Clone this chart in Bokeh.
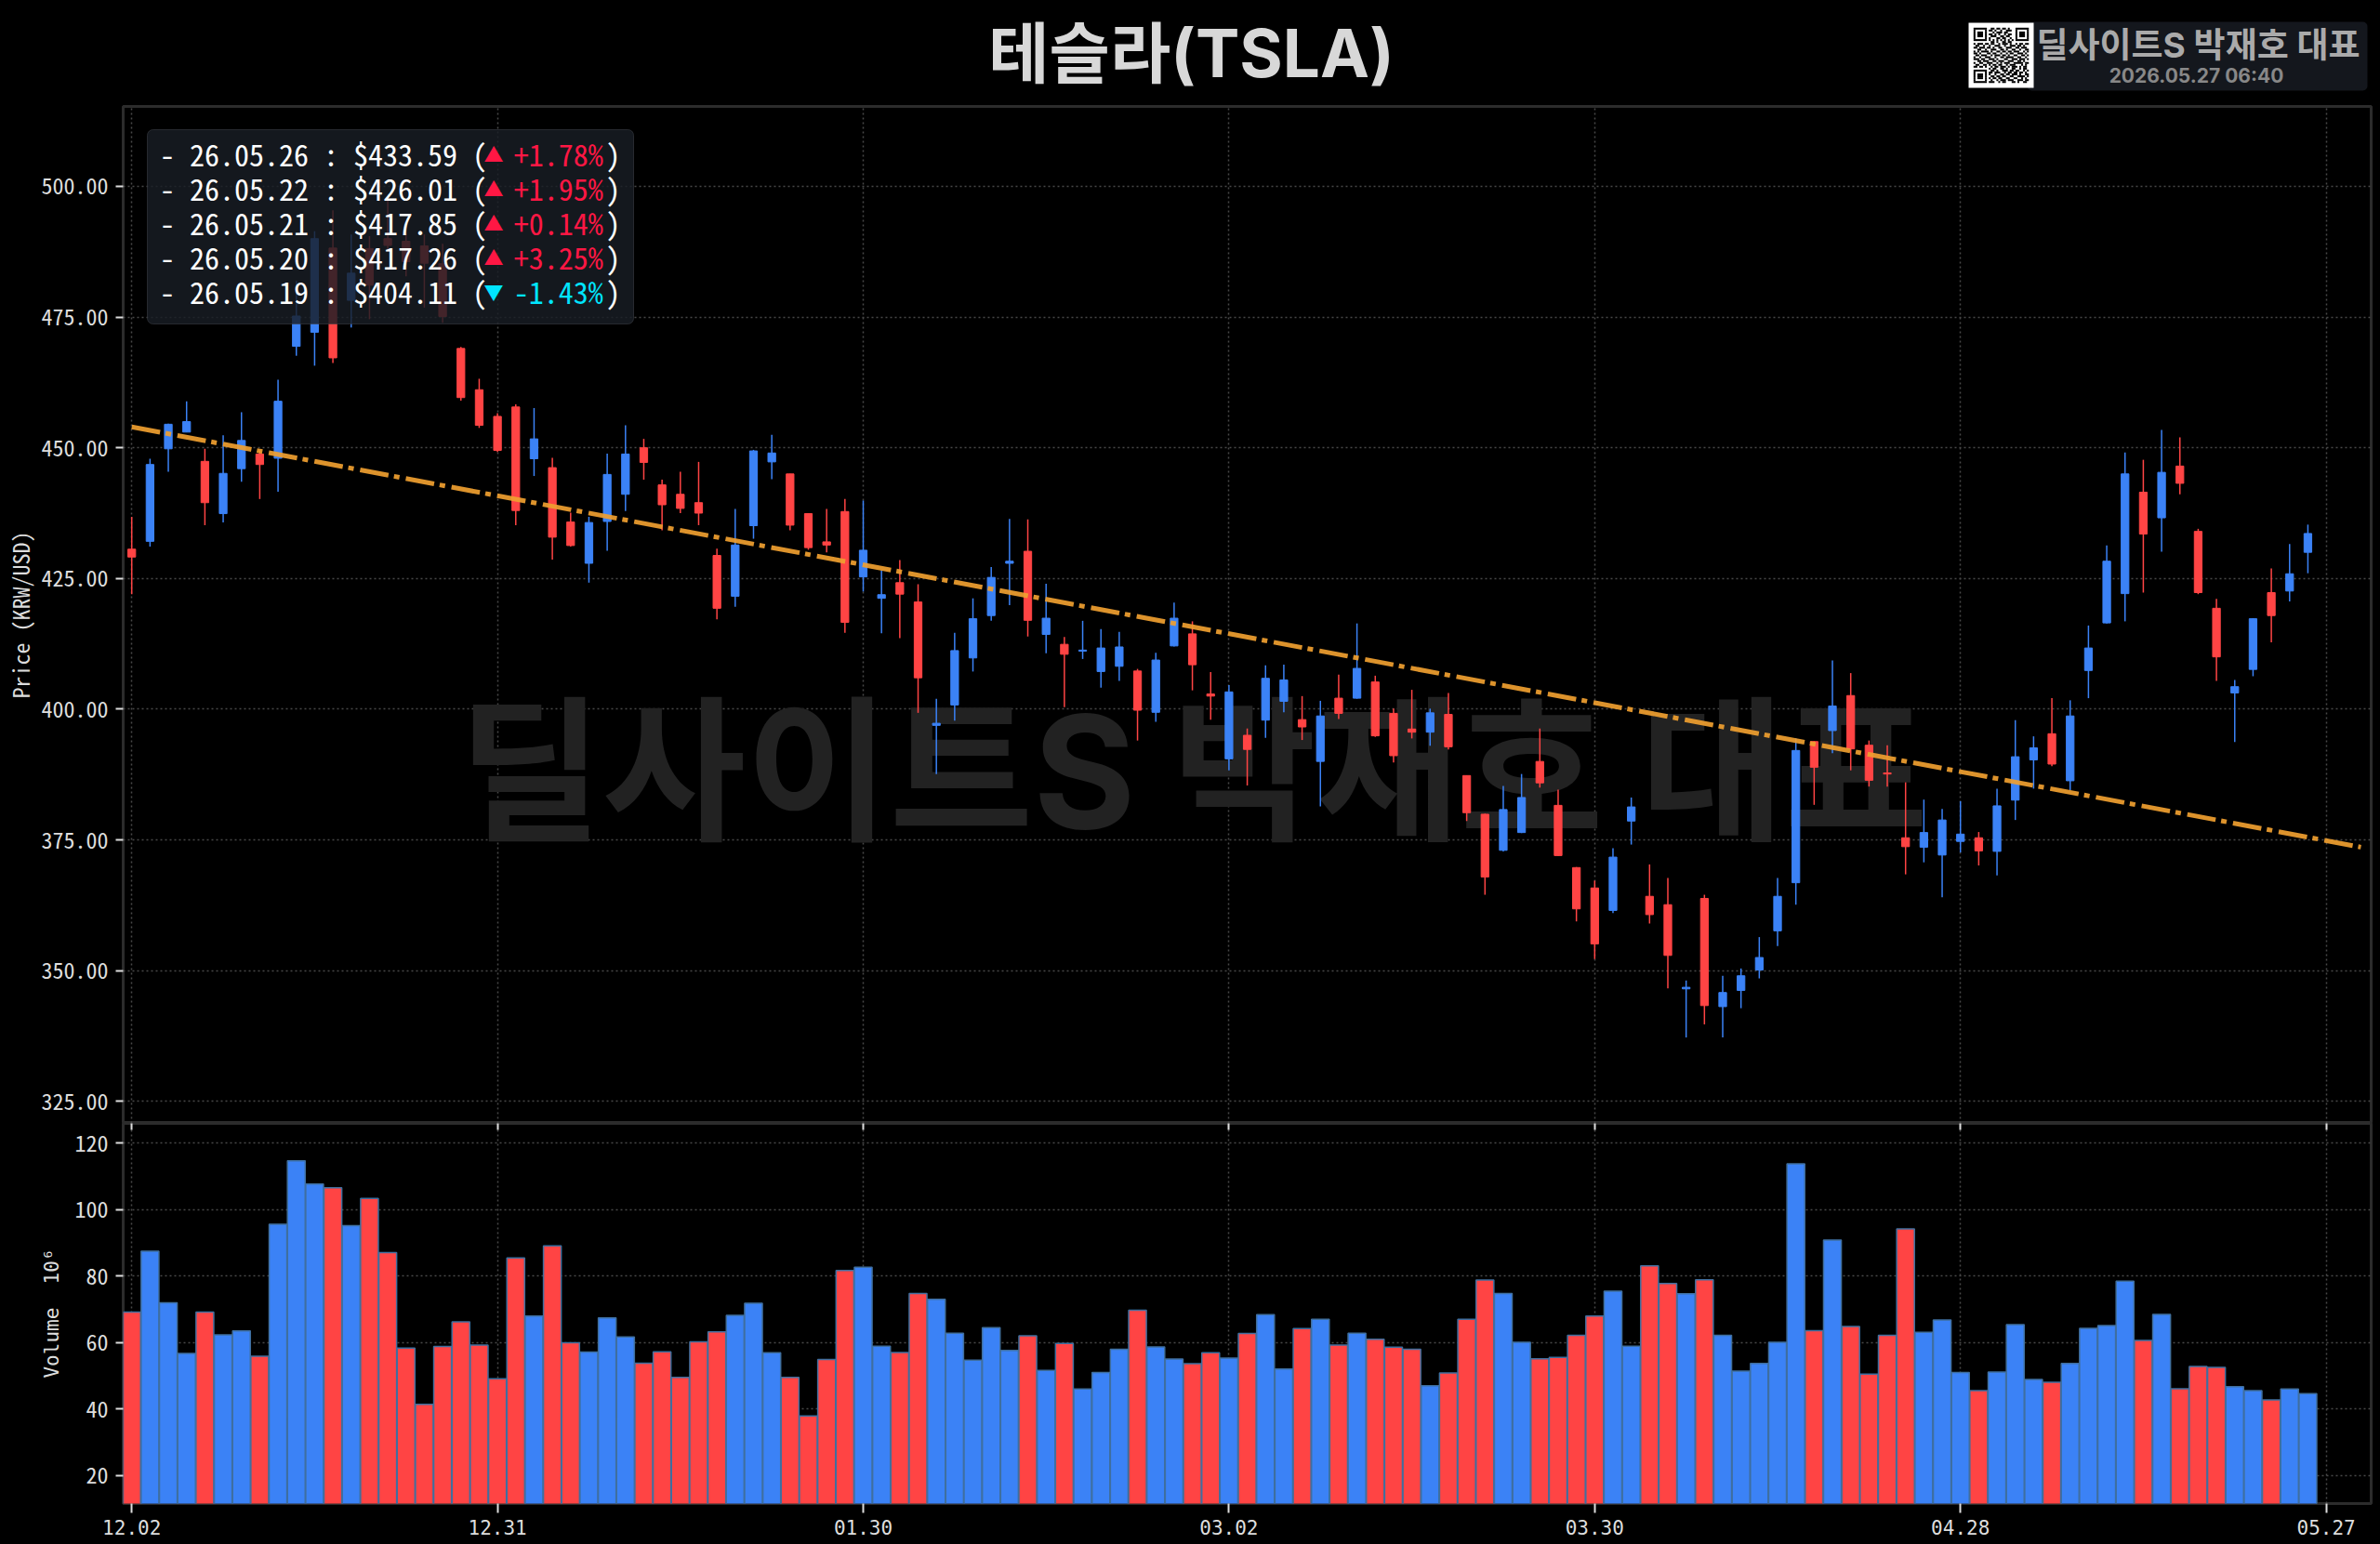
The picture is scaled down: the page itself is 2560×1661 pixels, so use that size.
from bokeh.embed import file_html
from bokeh.resources import INLINE
from bokeh.plotting import figure
from bokeh.layouts import column
from bokeh.models import (ColumnDataSource, FixedTicker, Label, BoxAnnotation, LinearAxis, Range1d)

# ---- data ----
opens = [430.6,432.1,449.8,453.0,447.4,437.4,446.0,448.8,448.0,469.4,472.1,488.2,478.2,488.1,490.0,489.5,488.6,485.2,469.0,461.1,
         456.0,457.8,447.9,446.2,435.8,427.9,435.9,441.1,450.0,442.9,441.1,439.5,429.4,421.6,435.1,447.3,445.0,437.4,432.0,437.8,
         425.3,421.2,424.2,420.5,396.9,400.8,409.8,417.9,427.9,430.2,414.3,412.4,411.1,407.2,408.2,407.3,399.4,412.1,414.4,402.9,
         390.5,395.0,397.9,401.5,398.0,390.0,402.1,402.1,405.2,399.2,396.2,395.6,399.0,387.3,379.9,373.0,376.4,390.0,381.6,369.7,
         365.8,361.5,378.6,364.2,362.6,346.5,363.8,343.1,346.2,350.1,357.6,366.8,393.8,395.9,402.6,393.1,387.8,375.4,373.6,372.1,
         374.7,375.4,372.8,382.6,390.3,395.3,386.3,407.4,416.5,422.1,441.5,436.6,446.5,434.0,419.3,403.1,407.6,422.3,422.6,430.0]
highs = [436.8,447.9,454.6,458.9,449.8,452.4,456.8,449.5,463.0,481.9,491.4,495.4,490.8,490.5,497.5,491.1,490.8,489.0,469.3,463.2,
         456.6,458.3,457.6,448.1,437.6,436.8,448.9,454.3,451.7,443.9,445.4,447.3,430.7,438.3,449.6,452.5,445.0,437.4,438.3,440.2,
         439.9,426.6,428.5,423.9,402.0,414.6,421.2,427.2,436.4,436.3,424.0,413.8,416.9,415.3,414.8,407.7,410.8,420.4,416.8,407.1,
         404.6,396.3,408.4,408.5,402.5,401.6,406.6,416.4,406.4,400.1,403.7,400.1,403.1,387.3,380.0,385.3,387.6,396.3,384.6,369.8,
         367.2,373.4,383.1,370.3,367.7,348.1,364.5,349.0,350.4,356.4,367.7,394.4,393.9,409.3,406.9,394.0,393.1,386.0,382.7,380.9,
         382.4,376.5,384.8,397.9,394.8,402.1,401.7,416.0,431.3,449.1,447.7,453.4,452.0,434.5,421.1,405.6,417.4,426.9,431.6,435.3]
lows = [422.0,431.1,445.4,453.0,435.2,435.7,443.5,440.2,441.6,467.6,465.7,466.2,473.0,474.6,487.5,482.8,476.8,473.9,459.0,453.8,
        449.2,435.2,444.6,428.6,431.1,424.2,430.3,437.9,443.9,434.2,437.5,435.2,417.2,419.6,432.6,444.0,434.2,430.5,430.0,414.6,
        422.5,414.5,413.6,399.3,387.6,397.8,407.2,416.9,419.9,413.9,410.7,400.4,409.6,404.1,405.4,394.0,397.6,412.0,403.6,398.0,
        388.3,385.4,394.5,399.4,394.1,381.4,398.1,402.0,394.7,389.8,394.4,393.0,392.3,378.6,364.5,372.8,376.3,385.0,371.9,359.4,
        352.2,361.0,374.1,359.0,346.6,337.2,339.7,337.2,342.8,348.5,354.7,362.6,381.7,391.6,388.3,385.2,385.2,368.4,370.7,364.0,
        372.6,370.1,368.2,378.8,384.8,389.1,384.5,402.1,416.4,416.8,422.3,430.1,441.1,422.0,405.4,393.7,406.3,412.8,420.6,426.0]
closes = [429.1,446.8,454.5,455.0,439.5,445.1,451.4,446.8,458.9,475.2,490.0,467.2,483.4,481.1,488.7,485.6,485.3,475.1,459.6,454.3,
          449.5,438.0,451.7,432.9,431.3,435.7,444.9,448.8,447.2,439.1,438.4,437.5,419.3,431.4,449.4,449.0,435.2,430.9,431.4,416.6,
          430.4,421.9,422.0,406.0,397.3,411.2,417.3,425.2,428.3,417.0,417.4,410.5,411.3,411.7,411.9,399.8,409.4,417.4,408.5,402.5,
          403.3,392.3,405.9,405.6,396.6,398.7,399.2,407.8,394.9,391.1,395.6,399.3,392.8,380.2,367.9,380.8,383.1,385.9,372.0,361.8,
          355.1,371.7,381.3,360.7,352.9,346.8,343.3,345.8,349.0,352.5,364.2,392.1,388.9,400.6,392.4,386.4,387.6,373.7,376.4,378.8,
          376.1,372.9,381.5,390.9,392.6,389.5,398.7,411.7,428.3,445.0,433.5,445.3,443.2,422.3,410.0,404.3,417.3,417.9,425.9,433.6]
volumes = [69.2,87.5,72.0,56.7,69.2,62.3,63.5,55.9,95.6,114.7,107.7,106.6,95.2,103.4,87.1,58.3,41.4,58.8,66.2,59.2,
           49.1,85.5,68.0,89.1,59.9,57.1,67.4,61.7,53.8,57.2,49.5,60.2,63.2,68.2,71.8,56.9,49.5,37.9,54.9,81.7,
           82.7,58.9,57.0,74.8,73.0,62.8,54.7,64.5,57.6,62.0,51.6,59.7,46.0,51.0,58.0,69.7,58.7,55.0,53.6,56.9,
           55.3,62.7,68.4,52.0,64.2,67.0,59.2,62.8,61.0,58.6,58.0,47.0,50.8,67.0,78.8,74.8,60.1,55.1,55.5,62.2,
           68.0,75.5,58.9,83.1,77.8,74.7,78.9,62.2,51.4,53.7,60.1,113.8,63.6,90.9,64.8,50.5,62.2,94.2,63.1,66.8,
           51.0,45.5,51.1,65.4,48.9,48.0,53.7,64.3,65.1,78.5,60.6,68.5,46.1,52.8,52.5,46.7,45.5,42.7,46.0,44.6]
trend_x = [0, 121.9]
trend_y = [454.0, 373.6]
tick_positions = [0, 20, 40, 60, 80, 100, 120]
tick_labels = ["12.02", "12.31", "01.30", "03.02", "03.30", "04.28", "05.27"]
price_ticks = [325, 350, 375, 400, 425, 450, 475, 500]
volume_ticks = [20, 40, 60, 80, 100, 120]
legend_dates = ["26.05.26", "26.05.22", "26.05.21", "26.05.20", "26.05.19"]
legend_prices = ["433.59", "426.01", "417.85", "417.26", "404.11"]
legend_changes = [1.78, 1.95, 0.14, 3.25, -1.43]
qr_rows = [
"11111110011011011010001111111","10000010110100100111001000001","10111010001011101100001011101",
"10111010110101001011001011101","10111010011100110110001011101","10000010100011011001001000001",
"11111110101010101010101111111","00000000011010011011000000000","10111011011001011101001011011",
"01100100100111001001110110100","11011101101001100111001101110","00110010011100110100110010011",
"10101111010011011011011100101","11010001101100100101100111010","01101110010111011010011001101",
"10010011100100110111100110010","11101100111010001100111011101","00110111001101110011100110100",
"10011001110010101110011111011","01100110101101100101110001010","11011010010110111010111010110",
"00000000101100110100110010110","11111110011010011101101100101","10000010110111001011011011010",
"10111010100100110110111010011","10111010011011011001100111101","10111010101101100110011001010",
"10000010010010111011100111011","11111110111001011000110100110"]

MONO = "Noto Sans Mono CJK KR, DejaVu Sans Mono, monospace"
SANS = "Inter, Noto Sans CJK KR, Noto Sans, sans-serif"
RED, BLUE = "#ff4444", "#3b82f6"
HEADER_H = 112
LEFT, RIGHT_X = 132, 2550
idx = list(range(len(opens)))
colors = [BLUE if c >= o else RED for o, c in zip(opens, closes)]
src = ColumnDataSource(dict(x=idx, o=opens, h=highs, l=lows, c=closes, v=volumes, color=colors))

def style(p, ticks):
    p.background_fill_color = "#000000"
    p.border_fill_color = "#000000"
    p.outline_line_color = "#2c2c2c"
    p.outline_line_width = 3
    p.xgrid.ticker = FixedTicker(ticks=tick_positions)
    p.ygrid.ticker = FixedTicker(ticks=ticks)
    for g in (p.xgrid, p.ygrid):
        g.grid_line_color = "#484848"
        g.grid_line_dash = [2, 3]
        g.grid_line_width = 1.5
    ax = p.yaxis[0]
    ax.ticker = FixedTicker(ticks=ticks)
    ax.axis_line_color = None
    ax.major_tick_line_color = "#dddddd"
    ax.major_tick_line_width = 2
    ax.major_tick_out = 8
    ax.major_tick_in = 0
    ax.minor_tick_line_color = None
    ax.major_label_text_color = "#dddddd"
    ax.major_label_text_font = MONO
    ax.major_label_text_font_size = "24px"
    ax.major_label_standoff = 8
    ax.axis_label_text_color = "#dddddd"
    ax.axis_label_text_font = MONO
    ax.axis_label_text_font_size = "24px"
    ax.axis_label_text_font_style = "normal"

def canvas_label(p, X, Y, text, size, color, font=SANS, style_="normal", align="center", level="annotation", y0=0):
    lab = Label(x=X, y=Y - y0, x_units="canvas", y_units="canvas", text=text, text_font=font,
                text_font_size=f"{size}px", text_color=color, text_align=align, text_baseline="middle",
                text_font_style=style_, level=level)
    p.add_layout(lab)
    return lab

# ---- header strip: title, badge, QR ----
head = figure(frame_width=RIGHT_X - LEFT, frame_height=HEADER_H, min_border_left=LEFT, min_border_right=2, min_border_top=0,
              min_border_bottom=0, x_range=Range1d(LEFT, RIGHT_X), y_range=Range1d(HEADER_H, 0),
              x_axis_location=None, y_axis_location=None, output_backend="svg", toolbar_location=None)
head.background_fill_color = "#000000"
head.border_fill_color = "#000000"
head.outline_line_color = None
head.xgrid.visible = False
head.ygrid.visible = False
head.add_layout(BoxAnnotation(left=2180, right=2546, top=23, bottom=97, fill_color="#14171d", fill_alpha=1,
                              line_color=None, border_radius=5))
head.add_layout(BoxAnnotation(left=2117, right=2187, top=24, bottom=94, fill_color="#ffffff", fill_alpha=1,
                              line_color=None))
mod, qx, qy = 2.05, 2122.3, 29.3
ql, qr, qt, qb = [], [], [], []
for ry, row in enumerate(qr_rows):
    start = None
    for cx, ch in enumerate(row + "0"):
        if ch == "1" and start is None:
            start = cx
        if ch == "0" and start is not None:
            ql.append(qx + start * mod); qr.append(qx + cx * mod)
            qt.append(qy + ry * mod); qb.append(qy + (ry + 1) * mod)
            start = None
head.quad(left=ql, right=qr, top=qt, bottom=qb, fill_color="#000000", line_color=None, level="overlay")
canvas_label(head, 1281, 56, "테슬라(TSLA)", 71, "#d8d8d8", style_="bold")
canvas_label(head, 2364, 48, "딜사이트S 박재호 대표", 37, "#aaaaaa", style_="bold")
canvas_label(head, 2362, 81, "2026.05.27 06:40", 21, "#888888", style_="bold")

# ---- price panel ----
x_range = Range1d(-0.468, 122.46)
top = figure(frame_width=RIGHT_X - LEFT, frame_height=1094, min_border_left=LEFT, min_border_right=2,
             min_border_top=2, min_border_bottom=0, x_range=x_range, y_range=Range1d(320.77, 515.29),
             x_axis_location=None, output_backend="svg", toolbar_location=None)
style(top, price_ticks)
top.yaxis[0].axis_label = "Price (KRW/USD)"
top.yaxis[0].axis_label_standoff = 3
top.yaxis[0].major_label_overrides = {t: f"{t:.2f}" for t in price_ticks}

canvas_label(top, 1283, 829, "딜사이트S 박재호 대표", 168, "#222222", style_="bold", level="underlay", y0=HEADER_H)

top.segment("x", "l", "x", "h", source=src, color="color", line_width=1.5)
top.vbar("x", 0.42, "o", "c", source=src, fill_color="color", line_color="color", line_width=1)
top.line(trend_x, trend_y, line_color="#f0a030", line_alpha=0.92, line_width=5, line_dash=[31, 6, 6, 7])

top.add_layout(BoxAnnotation(left=158, right=681, top=139 - HEADER_H, bottom=348 - HEADER_H,
                             left_units="canvas", right_units="canvas", top_units="canvas", bottom_units="canvas",
                             fill_color="#191d24", fill_alpha=0.82, line_color="#3a3e45", line_alpha=0.6,
                             line_width=1, border_radius=6, level="annotation"))
adv = 15.95
for r, (d, pr, ch) in enumerate(zip(legend_dates, legend_prices, legend_changes)):
    Y = 164 + 37 * r
    X0 = 171.5
    canvas_label(top, X0, Y, f"- {d} : ${pr} (", 32, "#ffffff", font=MONO, align="left", y0=HEADER_H)
    c = "#ff1744" if ch >= 0 else "#00e5ff"
    canvas_label(top, 530.6, Y, "▲" if ch >= 0 else "▼", 21, c, font=MONO, y0=HEADER_H)
    canvas_label(top, X0 + 24 * adv - 2, Y, f"{ch:+.2f}%", 32, c, font=MONO, align="left", y0=HEADER_H)
    canvas_label(top, X0 + 30 * adv + 1, Y, ")", 32, "#ffffff", font=MONO, align="left", y0=HEADER_H)

# ---- volume panel ----
bot = figure(frame_width=RIGHT_X - LEFT, frame_height=409, min_border_left=LEFT, min_border_right=2,
             min_border_top=0, min_border_bottom=44, x_range=x_range, y_range=Range1d(11.5, 126.0),
             output_backend="svg", toolbar_location=None)
style(bot, volume_ticks)
bot.vbar("x", 0.97, 0, "v", source=src, fill_color="color", line_color="#3f6f9f", line_width=1.5)
vax = bot.yaxis[0]
vax.axis_label = "Volume\u00a0\u00a010⁶"
vax.axis_label_standoff = 10
vax.axis_label_text_font = "DejaVu Sans Mono"
vax.axis_label_text_font_size = "21px"
xa = bot.xaxis[0]
xa.ticker = FixedTicker(ticks=tick_positions)
xa.major_label_overrides = dict(zip(tick_positions, tick_labels))
xa.axis_line_color = None
xa.major_tick_line_color = "#dddddd"
xa.major_tick_line_width = 2
xa.major_tick_out = 10
xa.major_tick_in = 0
xa.minor_tick_line_color = None
xa.major_label_text_color = "#dddddd"
xa.major_label_text_font = "DejaVu Sans Mono"
xa.major_label_text_font_size = "21px"
xa.major_label_standoff = 7
up = LinearAxis(ticker=FixedTicker(ticks=tick_positions), axis_line_color=None, major_tick_in=7, major_tick_out=0,
                major_tick_line_color="#dddddd", major_tick_line_width=2, minor_tick_line_color=None,
                major_label_text_font_size="0px", major_label_standoff=0,
                major_label_overrides={t: "" for t in tick_positions})
bot.add_layout(up, "above")

page = column(head, top, bot, spacing=0)
html = file_html(page, INLINE)
html = html.replace("</head>", "<style>html,body{background:#000000;}</style></head>")
open("out.html", "w").write(html)
